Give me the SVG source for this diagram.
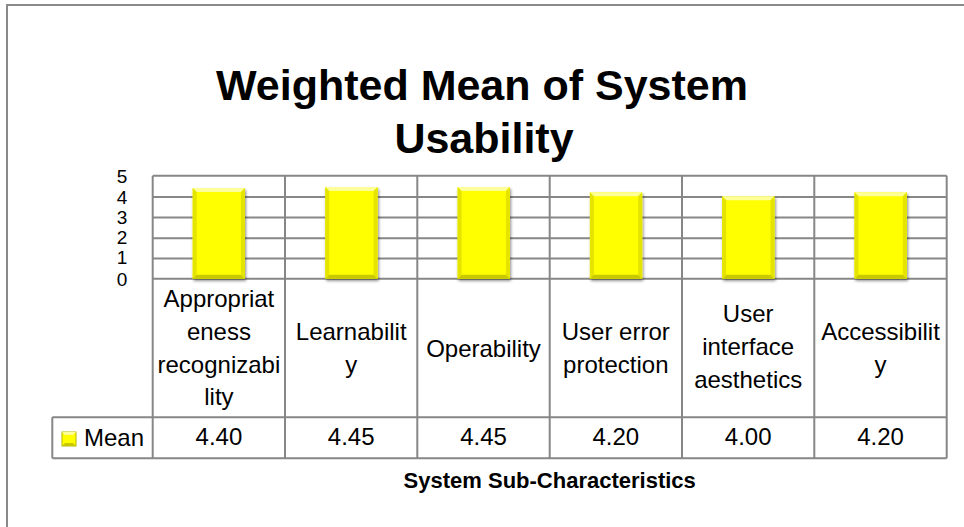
<svg xmlns="http://www.w3.org/2000/svg" width="964" height="527" viewBox="0 0 964 527">
<style>
.t{font-family:"Liberation Sans",Arial,sans-serif;fill:#000}
.cat{font-size:24px;text-anchor:middle}
.val{font-size:24px;text-anchor:middle}
.ax{font-size:19px;text-anchor:middle}
.grid{stroke:#878787;stroke-width:2;fill:none}
.bar{fill:#FFFF00}
.hl{fill:#FFFF9A}
.dk{fill:#C9C900}
.md{fill:#E4E400}
</style>
<defs>
<filter id="sh" x="-20%" y="-10%" width="140%" height="120%">
<feGaussianBlur in="SourceAlpha" stdDeviation="1.6"/>
<feOffset dx="0.5" dy="1.5" result="b"/>
<feComponentTransfer><feFuncA type="linear" slope="0.45"/></feComponentTransfer>
<feMerge><feMergeNode/><feMergeNode in="SourceGraphic"/></feMerge>
</filter>
</defs>
<rect x="0" y="0" width="964" height="527" fill="#fff"/>
<rect x="7" y="5" width="965" height="530" fill="none" stroke="#8a8a8a" stroke-width="2"/>

<g id="title">
<text class="t" x="482" y="100" font-size="43" font-weight="bold" text-anchor="middle">Weighted Mean of System</text>
<text class="t" x="484" y="153" font-size="43" font-weight="bold" text-anchor="middle">Usability</text>
</g>

<g id="grid">
<path class="grid" d="M152.7 175.7H946.7M152.7 197H946.7M152.7 217.6H946.7M152.7 238.2H946.7M152.7 258.4H946.7M152.7 278.7H946.7"/>
<path class="grid" d="M152.7 175.7V458.3M285 175.7V458.3M417.3 175.7V458.3M549.7 175.7V458.3M682 175.7V458.3M814.3 175.7V458.3M946.7 175.7V458.3"/>
<path class="grid" d="M52.3 417.3H946.7M52.3 458.3H946.7M52.3 417.3V458.3"/>
</g>

<g id="yaxis" class="t ax">
<text x="122" y="183">5</text>
<text x="122" y="204">4</text>
<text x="122" y="224">3</text>
<text x="122" y="244">2</text>
<text x="122" y="264">1</text>
<text x="122" y="285.5">0</text>
</g>

<g id="bars" filter="url(#sh)">
<g id="bar1">
<rect class="bar" x="192.7" y="188.1" width="52.3" height="90.6"/>
<polygon class="hl" points="192.7,188.1 245,188.1 241,192.1 196.7,192.1"/>
<polygon class="md" points="192.7,188.1 196.7,192.1 196.7,274.7 192.7,278.7"/>
<polygon class="md" points="245,188.1 245,278.7 241,274.7 241,192.1"/>
<polygon class="dk" points="192.7,278.7 196.7,274.7 241,274.7 245,278.7"/>
</g>
<g id="bar2">
<rect class="bar" x="325.3" y="187" width="52.3" height="91.7"/>
<polygon class="hl" points="325.3,187 377.6,187 373.6,191 329.3,191"/>
<polygon class="md" points="325.3,187 329.3,191 329.3,274.7 325.3,278.7"/>
<polygon class="md" points="377.6,187 377.6,278.7 373.6,274.7 373.6,191"/>
<polygon class="dk" points="325.3,278.7 329.3,274.7 373.6,274.7 377.6,278.7"/>
</g>
<g id="bar3">
<rect class="bar" x="457.6" y="187" width="52.3" height="91.7"/>
<polygon class="hl" points="457.6,187 509.9,187 505.9,191 461.6,191"/>
<polygon class="md" points="457.6,187 461.6,191 461.6,274.7 457.6,278.7"/>
<polygon class="md" points="509.9,187 509.9,278.7 505.9,274.7 505.9,191"/>
<polygon class="dk" points="457.6,278.7 461.6,274.7 505.9,274.7 509.9,278.7"/>
</g>
<g id="bar4">
<rect class="bar" x="589.9" y="192.2" width="52.3" height="86.5"/>
<polygon class="hl" points="589.9,192.2 642.2,192.2 638.2,196.2 593.9,196.2"/>
<polygon class="md" points="589.9,192.2 593.9,196.2 593.9,274.7 589.9,278.7"/>
<polygon class="md" points="642.2,192.2 642.2,278.7 638.2,274.7 638.2,196.2"/>
<polygon class="dk" points="589.9,278.7 593.9,274.7 638.2,274.7 642.2,278.7"/>
</g>
<g id="bar5">
<rect class="bar" x="722.2" y="196.3" width="52.3" height="82.4"/>
<polygon class="hl" points="722.2,196.3 774.5,196.3 770.5,200.3 726.2,200.3"/>
<polygon class="md" points="722.2,196.3 726.2,200.3 726.2,274.7 722.2,278.7"/>
<polygon class="md" points="774.5,196.3 774.5,278.7 770.5,274.7 770.5,200.3"/>
<polygon class="dk" points="722.2,278.7 726.2,274.7 770.5,274.7 774.5,278.7"/>
</g>
<g id="bar6">
<rect class="bar" x="854.5" y="192.2" width="52.3" height="86.5"/>
<polygon class="hl" points="854.5,192.2 906.8,192.2 902.8,196.2 858.5,196.2"/>
<polygon class="md" points="854.5,192.2 858.5,196.2 858.5,274.7 854.5,278.7"/>
<polygon class="md" points="906.8,192.2 906.8,278.7 902.8,274.7 902.8,196.2"/>
<polygon class="dk" points="854.5,278.7 858.5,274.7 902.8,274.7 906.8,278.7"/>
</g>
</g>

<g id="categories" class="t cat">
<g id="cat1">
<text x="218.9" y="306.7">Appropriat</text>
<text x="218.9" y="340">eness</text>
<text x="218.9" y="373.3">recognizabi</text>
<text x="218.9" y="405">lity</text>
</g>
<g id="cat2">
<text x="351.2" y="340">Learnabilit</text>
<text x="351.2" y="372.7">y</text>
</g>
<g id="cat3">
<text x="483.5" y="356.7">Operability</text>
</g>
<g id="cat4">
<text x="615.8" y="340">User error</text>
<text x="615.8" y="372.7">protection</text>
</g>
<g id="cat5">
<text x="748.2" y="321.7">User</text>
<text x="748.2" y="355">interface</text>
<text x="748.2" y="388.3">aesthetics</text>
</g>
<g id="cat6">
<text x="880.5" y="340">Accessibilit</text>
<text x="880.5" y="372.7">y</text>
</g>
</g>

<g id="legend">
<rect x="62" y="432" width="14" height="14" fill="#FFFF00" stroke="#B5B500" stroke-width="1"/>
<polygon points="62,432 76,432 73,435 65,435" fill="#FFFF9A"/>
<polygon points="62,446 65,443 73,443 76,446" fill="#C9C900"/>
<text class="t" x="84" y="445.5" font-size="24">Mean</text>
</g>

<g id="values" class="t val">
<text x="218.9" y="445">4.40</text>
<text x="351.2" y="445">4.45</text>
<text x="483.5" y="445">4.45</text>
<text x="615.8" y="445">4.20</text>
<text x="748.2" y="445">4.00</text>
<text x="880.5" y="445">4.20</text>
</g>

<g id="xaxis-title">
<text class="t" x="549.7" y="488" font-size="22" font-weight="bold" text-anchor="middle">System Sub-Characteristics</text>
</g>
</svg>
